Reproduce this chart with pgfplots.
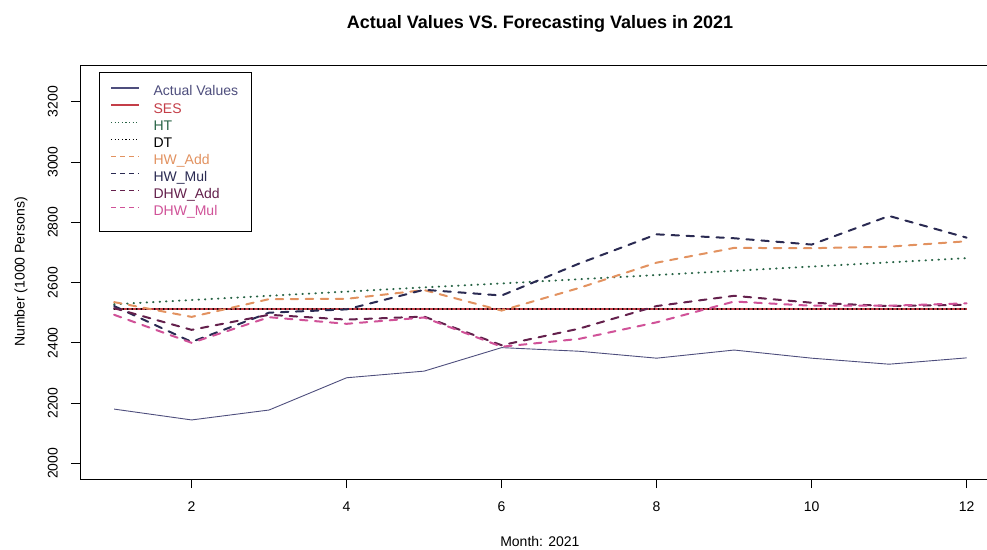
\documentclass[border=0pt]{standalone}
\usepackage{fontspec}
\setmainfont{Liberation Sans}
\usepackage{pgfplots}
\pgfplotsset{compat=1.18}
\usepackage{pgfplotstable}

% line colours
\definecolor{actualc}{RGB}{78,78,125}
\definecolor{sesc}{RGB}{196,62,72}
\definecolor{htc}{RGB}{40,100,70}
\definecolor{hwaddc}{RGB}{226,146,96}
\definecolor{hwmulc}{RGB}{42,42,82}
\definecolor{dhwaddc}{RGB}{100,32,76}
\definecolor{dhwmulc}{RGB}{208,82,152}

% monthly figures for 2021: actual values and the seven forecasts
\pgfplotstableread{
m  actual ses  ht   dt   hwadd hwmul dhwadd dhwmul
1  2180   2513 2528 2512 2535  2522  2515   2493
2  2144   2513 2542 2512 2486  2403  2443   2400
3  2177   2513 2556 2512 2545  2500  2493   2485
4  2284   2513 2570 2512 2546  2511  2477   2463
5  2306   2513 2584 2512 2575  2576  2487   2484
6  2384   2513 2597 2512 2507  2557  2392   2387
7  2372   2513 2611 2512 2582  2663  2447   2413
8  2349   2513 2625 2512 2666  2760  2522   2468
9  2376   2513 2639 2512 2715  2747  2556   2537
10 2349   2513 2653 2512 2714  2726  2533   2523
11 2329   2513 2667 2512 2719  2821  2522   2523
12 2350   2513 2681 2512 2737  2749  2526   2531
}\forecast

\begin{document}
\fontsize{14}{17}\selectfont
\begin{tikzpicture}
\path[use as bounding box] (0,0) rectangle (987pt,549pt);
\begin{axis}[
  at={(80pt,70pt)}, anchor=south west,
  scale only axis, width=907pt, height=414pt,
  xmin=0.56, xmax=12.263, ymin=1948, ymax=3322,
  axis x line*=box, axis y line*=left,
  xtick={2,4,...,12}, ytick={2000,2200,...,3200},
  xtick pos=lower, ytick pos=left,
  tick align=outside, major tick length=9pt,
  every tick/.style={black, line width=0.8pt},
  axis line style={black, line width=0.8pt},
  /pgf/number format/assume math mode=true,
  /pgf/number format/1000 sep={},
  tick label style={font=\fontsize{14}{17}\selectfont, text=black},
  yticklabel style={rotate=90, anchor=south, inner sep=0pt},
  xticklabel style={anchor=north, inner sep=0pt},
  yticklabel shift=13pt,
  xticklabel shift=14pt,
  xlabel={Month: 2021},
  ylabel={Number (1000 Persons)},
  xlabel style={at={(axis description cs:0.507,-0.1498)}, anchor=center, font=\fontsize{14}{17}\selectfont},
  ylabel style={at={(axis description cs:-0.0650,0.5)}, anchor=center, font=\fontsize{14}{17}\selectfont},
  legend image code/.code={\draw[#1] (0pt,4.5pt) -- (28pt,4.5pt);},
  legend cell align=left,
  legend style={at={(axis description cs:0.02095,0.982)}, anchor=north west,
    draw=black, line width=0.8pt, fill=white,
    inner xsep=11pt, inner ysep=11pt, row sep=0pt, column sep=12pt,
    font=\fontsize{14}{17}\selectfont,
    nodes={inner xsep=2pt, inner ysep=2.05pt, text height=10pt, text depth=3pt}},
]
% legend samples
\addlegendimage{draw=actualc, line width=1.2pt}
\addlegendentry{\textcolor{actualc}{Actual Values}}
\addlegendimage{draw=sesc, line width=1.2pt}
\addlegendentry{\textcolor{sesc}{SES}}
\addlegendimage{draw=htc, line width=1.2pt, dash pattern=on 1.2pt off 2.4pt}
\addlegendentry{\textcolor{htc}{HT}}
\addlegendimage{draw=black, line width=1.2pt, dash pattern=on 1.2pt off 2.4pt}
\addlegendentry{DT}
\addlegendimage{draw=hwaddc, line width=1.2pt, dash pattern=on 5pt off 4pt}
\addlegendentry{\textcolor{hwaddc}{HW\_Add}}
\addlegendimage{draw=hwmulc, line width=1.2pt, dash pattern=on 5pt off 4pt}
\addlegendentry{\textcolor{hwmulc}{HW\_Mul}}
\addlegendimage{draw=dhwaddc, line width=1.2pt, dash pattern=on 5pt off 4pt}
\addlegendentry{\textcolor{dhwaddc}{DHW\_Add}}
\addlegendimage{draw=dhwmulc, line width=1.2pt, dash pattern=on 5pt off 4pt}
\addlegendentry{\textcolor{dhwmulc}{DHW\_Mul}}

% series
\addplot[actualc, line width=0.9pt, forget plot] table[x=m, y=actual] {\forecast};
\addplot[sesc, line width=1.6pt, forget plot] table[x=m, y=ses] {\forecast};
\addplot[htc, line width=2pt, line cap=round, dash pattern=on 0.5pt off 6pt, forget plot] table[x=m, y=ht] {\forecast};
\addplot[black, line width=1.5pt, line cap=round, dash pattern=on 0.3pt off 4.2pt, forget plot] table[x=m, y=dt] {\forecast};
\addplot[hwaddc, line width=2pt, line cap=round, dash pattern=on 7.5pt off 7.5pt, forget plot] table[x=m, y=hwadd] {\forecast};
\addplot[hwmulc, line width=2pt, line cap=round, dash pattern=on 7.5pt off 7.5pt, forget plot] table[x=m, y=hwmul] {\forecast};
\addplot[dhwaddc, line width=2pt, line cap=round, dash pattern=on 7.5pt off 7.5pt, forget plot] table[x=m, y=dhwadd] {\forecast};
\addplot[dhwmulc, line width=2pt, line cap=round, dash pattern=on 7.5pt off 7.5pt, forget plot] table[x=m, y=dhwmul] {\forecast};
\end{axis}
\node[font=\bfseries\fontsize{18}{21}\selectfont] at (540pt,525pt) {Actual Values VS. Forecasting Values in 2021};
\end{tikzpicture}
\end{document}
